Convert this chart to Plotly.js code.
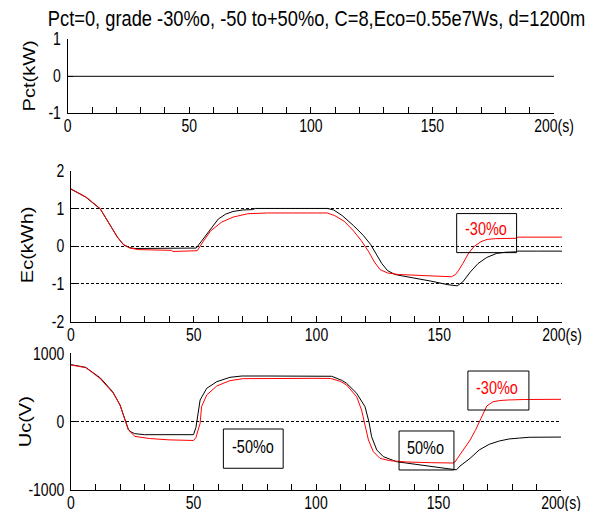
<!DOCTYPE html>
<html><head><meta charset="utf-8">
<script src="https://cdn.plot.ly/plotly-3.0.1.min.js"></script>
<style>html,body{margin:0;padding:0;background:#fff}#chart{width:590px;height:511px}</style>
</head><body><div id="chart"></div><script>
// ---- data ----
const timeTicks = [0, 50, 100, 150, 200];
const timeTickText = ['0', '50', '100', '150', '200(s)'];
const pctTicks = [-1, 0, 1];
const ecTicks = [-2, -1, 0, 1, 2];
const ucTicks = [-1000, 0, 1000];

const pctTime = [0, 200];
const pctValues = [0, 0];

const ecBlackTime = [0, 6, 12, 16, 19, 21.5, 24, 26, 30, 40, 50, 51, 53, 55, 57, 60, 63, 66, 70, 74, 75, 80, 90, 100, 104.5, 107, 110.5, 115, 119, 122, 124.3, 126.6, 129, 132, 136, 140, 147, 153.5, 157.3, 159.6, 162.7, 165.8, 169.3, 173.4, 177, 181, 182, 190, 200];
const ecBlack = [1.51, 1.30, 0.98, 0.57, 0.23, 0.03, -0.04, -0.06, -0.06, -0.06, -0.06, -0.05, 0.12, 0.30, 0.48, 0.72, 0.85, 0.92, 0.96, 0.97, 1.0, 1.0, 1.0, 1.0, 1.0, 0.96, 0.81, 0.55, 0.29, 0.05, -0.20, -0.46, -0.65, -0.75, -0.80, -0.84, -0.93, -1.02, -1.05, -0.945, -0.68, -0.46, -0.30, -0.19, -0.16, -0.15, -0.13, -0.13, -0.13];

const ecRedTime = [0, 6.4, 11.8, 15.9, 18.6, 21.3, 24, 27.4, 35, 41, 41.5, 50.3, 51.4, 53.7, 56.8, 61.4, 66, 72, 75, 80, 100, 104.4, 107.4, 111.3, 115, 118.2, 121.3, 123.6, 125.9, 129, 133.5, 139.7, 150, 155, 156.6, 157.8, 159.6, 162, 164.3, 167, 169.5, 173, 181.5, 182, 200];
const ecRed = [1.52, 1.29, 1.0, 0.58, 0.27, 0.05, -0.05, -0.09, -0.11, -0.11, -0.14, -0.14, -0.12, 0.11, 0.40, 0.64, 0.77, 0.86, 0.875, 0.88, 0.88, 0.88, 0.81, 0.66, 0.41, 0.15, -0.15, -0.42, -0.62, -0.71, -0.75, -0.77, -0.79, -0.81, -0.75, -0.65, -0.46, -0.18, 0.0, 0.12, 0.18, 0.20, 0.21, 0.24, 0.24];

const ucBlackTime = [0, 6, 12, 17, 20, 22.4, 23.4, 24.5, 26, 30, 40, 50, 51, 51.5, 52.7, 55.4, 59.5, 64.9, 69.7, 80, 100, 106.4, 110.5, 112.5, 116.6, 120, 121.6, 122.7, 124.8, 127.5, 132.9, 142.4, 150, 156, 157.3, 158.8, 162.9, 166.6, 170.7, 174.8, 178.8, 183, 187, 200];
const ucBlack = [835, 795, 640, 440, 245, 0, -110, -150, -175, -190, -192, -190, -84, 50, 318, 489, 586, 650, 669, 669, 669, 665, 606, 562, 416, 220, 0, -220, -414, -512, -586, -634, -665, -697, -705, -649, -536, -414, -331, -283, -253, -240, -228, -225];

const ucRedTime = [0, 6, 11.8, 17.3, 20, 22.4, 23.4, 26.1, 32, 40, 49, 50, 51, 52.7, 53.3, 55.4, 59.5, 64.9, 70.3, 80, 100, 106, 110, 112.5, 116.6, 118.6, 120, 121.4, 123.4, 126.1, 130, 137, 147, 156, 156.7, 160, 162.9, 165, 167.6, 169.7, 172.3, 175, 178.4, 185, 200];
const ucRed = [830, 793, 635, 416, 245, 0, -121, -215, -246, -266, -281, -275, -231, -23, 220, 391, 523, 601, 630, 635, 635, 633, 590, 537, 366, 171, -73, -268, -439, -536, -570, -590, -600, -605, -590, -420, -268, -130, 73, 230, 293, 310, 318, 325, 328];

// ---- style ----
const FONT = '"Liberation Sans", Arial, sans-serif';
const RED = '#ff0000';
const STRETCH = 1.25; // the reference's lettering is drawn taller than wide

function line(x, y, color, xa, ya) {
  return {x: x, y: y, xaxis: xa, yaxis: ya, type: 'scatter', mode: 'lines',
          line: {color: color, width: 1}, hoverinfo: 'skip', showlegend: false};
}

const data = [
  line(pctTime, pctValues, '#000', 'x', 'y'),
  line(ecBlackTime, ecBlack, '#000', 'x2', 'y2'),
  line(ecRedTime, ecRed, RED, 'x2', 'y2'),
  line(ucBlackTime, ucBlack, '#000', 'x3', 'y3'),
  line(ucRedTime, ucRed, RED, 'x3', 'y3')
];

function xAxis(domain, anchor) {
  return {domain: domain, anchor: anchor, range: [0, 200], fixedrange: true,
    showline: true, linecolor: '#000', linewidth: 1, mirror: false,
    ticks: 'inside', ticklen: 6, tickcolor: '#000', tickwidth: 1,
    tickvals: timeTicks, ticktext: timeTickText,
    minor: {ticks: 'inside', tick0: 0, dtick: 10, ticklen: 6, tickcolor: '#000', tickwidth: 1, showgrid: false},
    showgrid: false, zeroline: false,
    tickfont: {family: FONT, size: 14, color: '#000'}};
}
function yAxis(domain, anchor, range, ticks, grid) {
  return {domain: domain, anchor: anchor, range: range, fixedrange: true,
    showline: true, linecolor: '#000', linewidth: 1, mirror: false,
    ticks: 'inside', ticklen: 5, tickcolor: '#000', tickwidth: 1,
    tickvals: ticks, ticktext: ticks.map(String),
    showgrid: grid, gridcolor: '#000', gridwidth: 1, griddash: '3px,2px',
    zeroline: false, ticklabelstandoff: 3,
    tickfont: {family: FONT, size: 14, color: '#000'}};
}

function label(text, color, xref, yref, x, y) {
  return {text: text, xref: xref, yref: yref, x: x, y: y, showarrow: false,
    xanchor: 'center', yanchor: 'middle',
    font: {family: FONT, size: 14.5, color: color}};
}
function frame(xref, yref, x0, x1, y0, y1) {
  return {type: 'rect', xref: xref, yref: yref, x0: x0, x1: x1, y0: y0, y1: y1,
    line: {color: '#000', width: 1}, fillcolor: 'rgba(0,0,0,0)', layer: 'above'};
}
function ytitle(text, x, y) {
  return {text: text, xref: 'paper', yref: 'paper', x: x, y: y, showarrow: false,
    textangle: -90, xanchor: 'center', yanchor: 'middle',
    font: {family: FONT, size: 16, color: '#000'}};
}

const layout = {
  width: 590, height: 511,
  margin: {l: 0, r: 0, t: 0, b: 0},
  paper_bgcolor: '#fff', plot_bgcolor: '#fff',
  showlegend: false,
  title: {text: 'Pct=0, grade -30%o, -50 to+50%o, C=8,Eco=0.55e7Ws, d=1200m',
          font: {family: FONT, size: 18.3, color: '#000'},
          xref: 'paper', x: 316.5 / 590, xanchor: 'center',
          yref: 'container', y: 1 - 17.9 / 511, yanchor: 'middle'},
  xaxis: xAxis([67.7 / 590, 554 / 590], 'y'),
  yaxis: yAxis([(511 - 113.3) / 511, (511 - 39.3) / 511], 'x', [-1, 1], pctTicks, false),
  xaxis2: xAxis([71 / 590, 562 / 590], 'y2'),
  yaxis2: yAxis([(511 - 321.7) / 511, (511 - 170.7) / 511], 'x2', [-2, 2], ecTicks, true),
  xaxis3: xAxis([71 / 590, 561 / 590], 'y3'),
  yaxis3: yAxis([(511 - 490) / 511, (511 - 353.4) / 511], 'x3', [-1000, 1000], ucTicks, true),
  shapes: [
    frame('x2', 'y2', 157.1, 181.5, -0.17, 0.864),
    frame('x3', 'y3', 62.2, 86.6, -682, -107),
    frame('x3', 'y3', 133.9, 156.3, -707, -136),
    frame('x3', 'y3', 162.0, 186.9, 171, 742)
  ],
  annotations: [
    ytitle('Pct(kW)', 29.5 / 590, 1 - 75.8 / 511),
    ytitle('Ec(kWh)', 28.5 / 590, 1 - 245 / 511),
    ytitle('Uc(V)', 25.5 / 590, 1 - 421.7 / 511),
    label('-30%o', RED, 'x2', 'y2', 169.0, 0.45),
    label('-50%o', '#000', 'x3', 'y3', 74.2, -367),
    label('50%o', '#000', 'x3', 'y3', 144.5, -378),
    label('-30%o', RED, 'x3', 'y3', 173.9, 488)
  ]
};

// stretch every text vertically on the page (around its own centre)
function stretchText(gd, factor) {
  gd.querySelectorAll('svg text').forEach(function (el) {
    if (!el.textContent.trim()) return;
    const ctm = el.parentNode.getScreenCTM();
    if (!ctm) return;
    const old = el.getAttribute('transform') || '';
    if (Math.abs(ctm.d) > 1e-6 && Math.abs(ctm.b) < 1e-6) {
      const r = el.getBoundingClientRect();
      if (!r.height) return;
      const cy = (r.top + r.height / 2 - ctm.f) / ctm.d;
      el.setAttribute('transform',
        'translate(0,' + cy + ') scale(1,' + factor + ') translate(0,' + (-cy) + ') ' + old);
    } else {
      // text inside a group rotated by +/-90 degrees: page vertical is local x
      const bb = el.getBBox();
      const cx = bb.x + bb.width / 2;
      el.setAttribute('transform',
        'translate(' + cx + ',0) scale(' + factor + ',1) translate(' + (-cx) + ',0) ' + old);
    }
  });
}

const gd = document.getElementById('chart');
Plotly.newPlot(gd, data, layout, {staticPlot: true, displayModeBar: false})
  .then(function () { stretchText(gd, STRETCH); });
</script></body></html>
